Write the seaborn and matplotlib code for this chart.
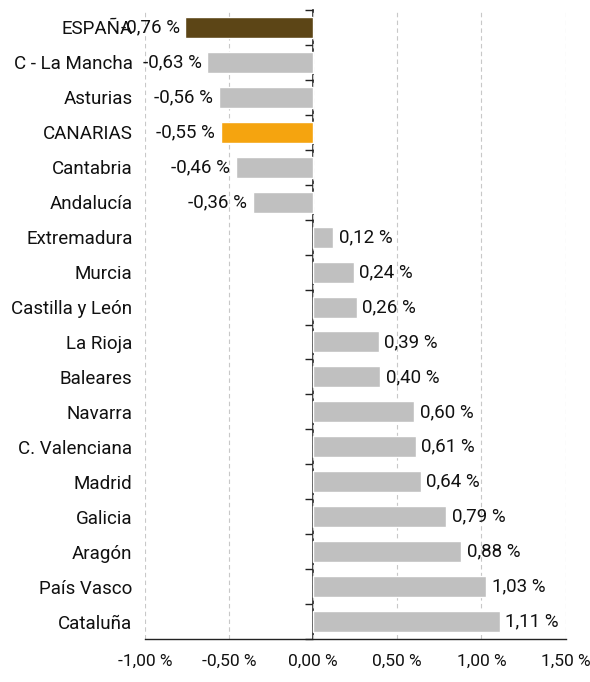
import numpy as np
import pandas as pd
import matplotlib
matplotlib.use("Agg")
import matplotlib.pyplot as plt
import seaborn as sns

regions = ["ESPAÑA", "C - La Mancha", "Asturias", "CANARIAS", "Cantabria", "Andalucía",
           "Extremadura", "Murcia", "Castilla y León", "La Rioja", "Baleares", "Navarra",
           "C. Valenciana", "Madrid", "Galicia", "Aragón", "País Vasco", "Cataluña"]
values = [-0.76, -0.63, -0.56, -0.55, -0.46, -0.36, 0.12, 0.24, 0.26, 0.39, 0.40,
          0.60, 0.61, 0.64, 0.79, 0.88, 1.03, 1.11]
xticks = [-1.0, -0.5, 0.0, 0.5, 1.0, 1.5]

colors = {r: "#C0C0C0" for r in regions}
colors["ESPAÑA"] = "#5C4516"
colors["CANARIAS"] = "#F5A40F"

df = pd.DataFrame({"region": regions, "value": values})

sns.set_style("white")
plt.rcParams["font.family"] = ["Roboto", "DejaVu Sans"]
fs = 13.5

def fmt(v):
    return "{:.2f} %".format(v).replace(".", ",")

fig = plt.figure(figsize=(5.9, 6.82), dpi=100)
ax = fig.add_axes([145 / 590, 1 - 639 / 682, 420.5 / 590, 629 / 682])

sns.barplot(data=df, x="value", y="region", hue="region", palette=colors,
            legend=False, orient="h", width=0.6, ax=ax, saturation=1)

n = len(regions)
ax.set_xlim(-1.0, 1.5)
ax.set_ylim(n - 0.5, -0.5)
ax.set_xticks(xticks)
ax.set_xticklabels([fmt(v) for v in xticks])
ax.set_xlabel("")
ax.set_ylabel("")
ax.grid(axis="x", color="#C8C8C8", linestyle=(0, (4, 3)), linewidth=0.8)
ax.grid(axis="y", visible=False)
ax.set_axisbelow(True)

for c in ax.containers:
    labels = [fmt(v) for v in c.datavalues]
    ax.bar_label(c, labels=labels, padding=4, fontsize=fs, color="#111111")

for s in ["top", "right", "left"]:
    ax.spines[s].set_visible(False)
ax.spines["bottom"].set_color("#222222")
ax.spines["bottom"].set_linewidth(1.0)

ax.tick_params(axis="x", which="major", direction="out", length=7, width=1,
               color="#222222", pad=4, labelsize=12.5, labelcolor="#111111")
ax.tick_params(axis="y", which="major", length=0, pad=9, labelsize=fs,
               labelcolor="#111111")
ax.set_yticks(np.arange(-0.5, n, 1), minor=True)
ax.tick_params(axis="y", which="minor", direction="out", length=3, width=1,
               color="#333333")

# vertical axis crossing at zero
secax = ax.secondary_yaxis(0.4)
secax.set_alignment("left")
secax.set_yticks(np.arange(-0.5, n, 1))
secax.set_yticklabels([])
secax.tick_params(axis="y", direction="out", length=6, width=1, color="#222222")
secax.spines["left"].set_color("#222222")
secax.spines["left"].set_linewidth(1.2)

fig.savefig("out.png", dpi=100)
